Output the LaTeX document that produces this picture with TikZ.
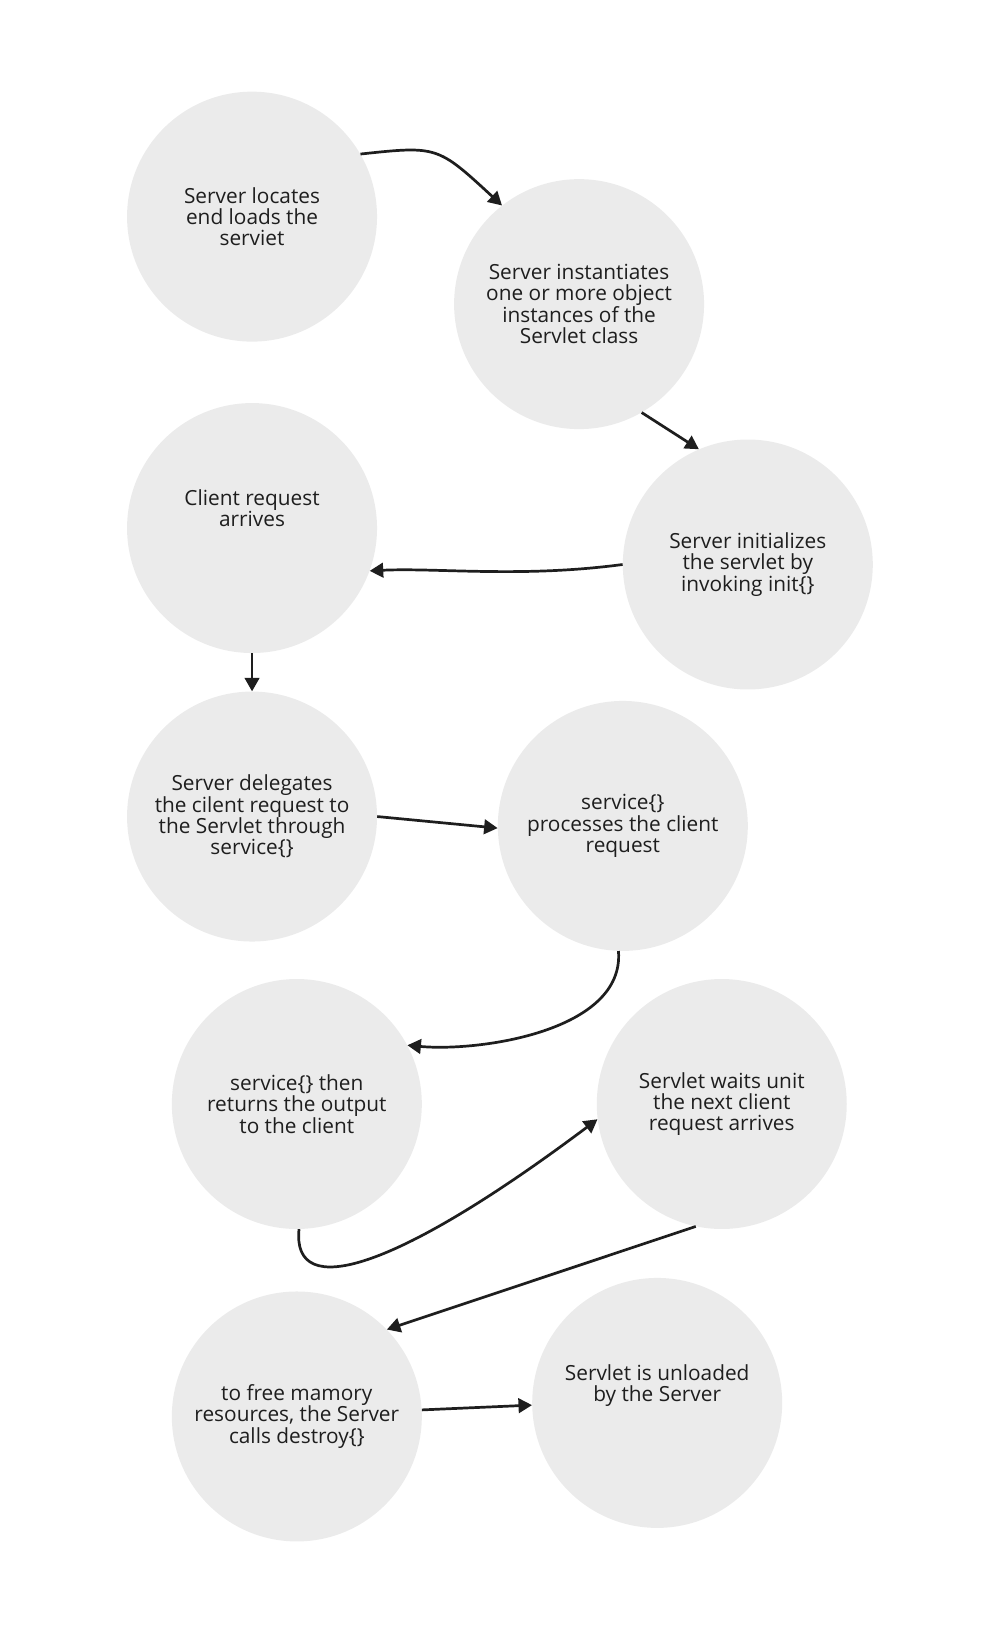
\documentclass[tikz,border=0pt]{standalone}
\usepackage{fontspec}
\setmainfont{Open Sans}
\usetikzlibrary{arrows.meta}
\definecolor{cfill}{HTML}{EBEBEB}
\definecolor{cline}{HTML}{1E1E1E}
\begin{document}
\begin{tikzpicture}[x=1pt,y=-1pt,
  bub/.style={circle,fill=cfill,minimum size=240pt,inner sep=0pt,align=center,font=\fontsize{20}{20.5}\selectfont,text=cline},
  arr/.style={draw=cline,line width=2.6pt,-{Triangle[length=13pt,width=14pt]}}]
\useasboundingbox (0,0) rectangle (960,1566);
\node[bub] (A) at (242,208) {Server locates\\end loads the\\serviet};
\node[bub] (B) at (556,292) {Server instantiates\\one or more object\\instances of the\\Servlet class};
\node[bub] (C) at (718,542) {Server initializes\\the servlet by\\invoking init\{\}};
\node[bub] (D) at (242,507) {Client request\\arrives\\[18pt]};
\node[bub] (E) at (242,784) {Server delegates\\the cilent request to\\the Servlet through\\service\{\}};
\node[bub] (F) at (598,793) {service\{\}\\processes the client\\request};
\node[bub] (G) at (285,1060) {service\{\} then\\returns the output\\to the client};
\node[bub] (H) at (693,1060) {Servlet waits unit\\the next client\\request arrives};
\node[bub] (I) at (285,1360) {to free mamory\\resources, the Server\\calls destroy\{\}};
\node[bub] (J) at (631,1347) {Servlet is unloaded\\by the Server\\[18pt]};
\draw[arr] (A.30) .. controls (420,140) .. (B.128);
\draw[arr] (B.-60) -- (C.113);
\draw[arr] (C.180) .. controls (500,555) and (420,545) .. (D.-20);
\draw[arr] (D.south) -- (E.north);
\draw[arr] (E.east) -- (F.181);
\draw[arr] (F.-92) .. controls (600,990) and (460,1010) .. (G.28);
\draw[arr] (G.-89) .. controls (280,1250) and (380,1220) .. (H.-173);
\draw[arr] (H.-102) -- (I.44);
\draw[arr] (I.3) -- (J.181);
\end{tikzpicture}
\end{document}
